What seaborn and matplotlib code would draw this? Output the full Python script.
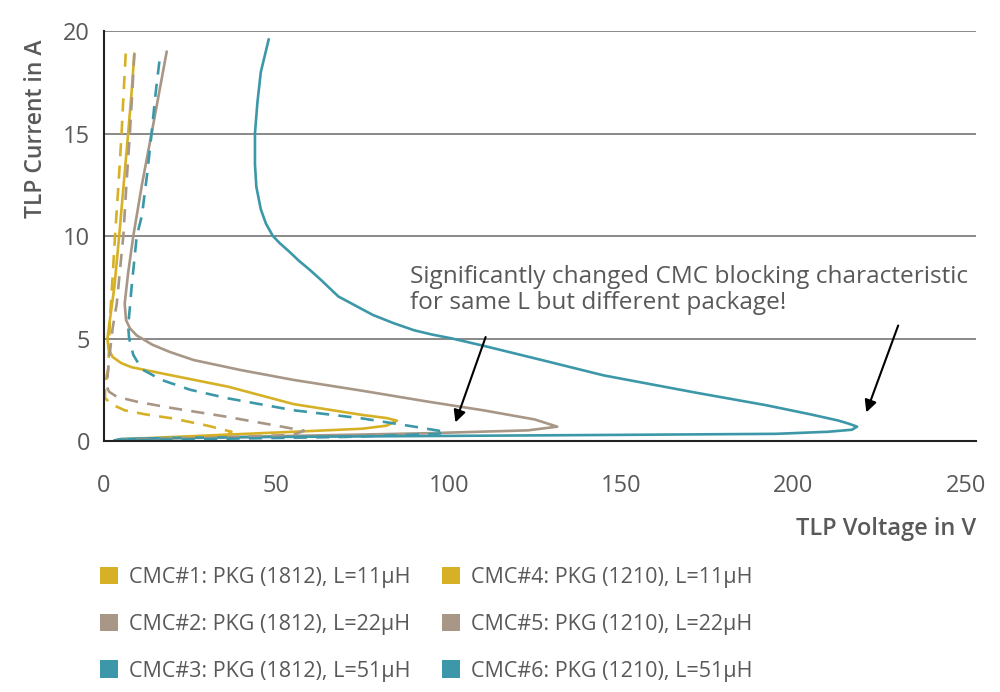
import matplotlib
matplotlib.use('Agg')
import matplotlib.pyplot as plt
from matplotlib.patches import Patch
import seaborn as sns
import pandas as pd

# TLP curves (voltage in V, current in A), traced from low current upward
v1 = [3, 7, 26, 55, 75, 82, 85, 82, 75, 55, 36, 16.7, 8, 5, 2.5, 1.3, 1.0, 1.7, 3, 4.4, 5.7, 7, 8, 8.8]
i1 = [0.03, 0.1, 0.24, 0.45, 0.6, 0.75, 0.99, 1.12, 1.27, 1.8, 2.65, 3.3, 3.6, 3.8, 4.1, 4.5, 5.0, 5.9, 7.5, 10, 12.5, 15, 17, 18.9]

v2 = [3, 10, 55, 94, 123, 131.5, 125, 110, 94, 75, 55, 40, 26, 19, 14, 9.5, 7.5, 6.4, 6, 7, 8.5, 11, 13.8, 16, 18.2]
i2 = [0.03, 0.1, 0.25, 0.38, 0.52, 0.7, 1.05, 1.5, 1.92, 2.45, 2.98, 3.45, 3.95, 4.35, 4.7, 5.15, 5.5, 5.9, 6.7, 8.2, 10, 12.5, 15, 17, 19.0]

v3 = [3, 5, 20, 50, 100, 150, 195, 210, 217, 218.5, 216, 213, 205, 192, 172, 145, 127, 110, 101, 95, 90, 84, 78,
      73, 68, 63, 59.7, 56.5, 54, 51, 49, 47, 45.5, 44.2, 43.8, 43.8, 44.5, 45.5, 47.8]
i3 = [0.03, 0.1, 0.15, 0.2, 0.25, 0.3, 0.35, 0.45, 0.55, 0.7, 0.85, 1.0, 1.3, 1.75, 2.35, 3.2, 3.95, 4.65, 5.0, 5.2, 5.4, 5.75, 6.15,
      6.6, 7.05, 7.85, 8.35, 8.8, 9.2, 9.65, 10.0, 10.6, 11.3, 12.4, 13.5, 15, 16.5, 18, 19.6]

v4 = [3, 20, 36, 37, 30, 20, 12, 6, 2, 0.3, 0.3, 0.8, 1.25, 1.7, 2.5, 3.2, 4.2, 5.1, 5.7, 6.3]
i4 = [0.03, 0.12, 0.3, 0.45, 0.75, 1.1, 1.3, 1.5, 1.8, 2.1, 2.6, 3.2, 3.5, 5.9, 8, 10, 12.5, 15, 17, 18.9]

v5 = [3, 30, 55, 58, 50, 35, 20, 10, 3.7, 1.5, 0.8, 1.2, 1.7, 2.5, 3.7, 5.6, 6.5, 7.5, 8.2, 8.8]
i5 = [0.03, 0.15, 0.3, 0.5, 0.75, 1.2, 1.6, 1.9, 2.16, 2.4, 2.65, 3.5, 4.3, 5.5, 6.7, 10, 12.5, 15, 17, 18.9]

v6 = [3, 30, 70, 97, 99, 90, 75, 55, 36, 25, 16.7, 11, 8.5, 7.3, 7, 7.5, 8, 9.5, 11, 12.5, 13.8, 15, 16.2]
i6 = [0.03, 0.1, 0.2, 0.35, 0.45, 0.7, 1.1, 1.5, 2.08, 2.5, 2.98, 3.5, 4.2, 5, 5.6, 6.5, 7.5, 10, 11, 13, 15, 17, 18.7]

labels = ['CMC#1: PKG (1812), L=11µH', 'CMC#2: PKG (1812), L=22µH', 'CMC#3: PKG (1812), L=51µH',
          'CMC#4: PKG (1210), L=11µH', 'CMC#5: PKG (1210), L=22µH', 'CMC#6: PKG (1210), L=51µH']

yellow, tan, teal = '#D6B126', '#A89786', '#3C98A8'
colors = [yellow, tan, teal, yellow, tan, teal]
text_gray = '#595959'

sns.set_style('white')
plt.rcParams['font.family'] = ['Open Sans', 'DejaVu Sans']

fig = plt.figure(figsize=(10, 6.92), dpi=100)
ax = fig.add_axes([0.104, 0.3627, 0.872, 0.5925])

curves = [(v1, i1), (v2, i2), (v3, i3), (v4, i4), (v5, i5), (v6, i6)]
for k, (v, i) in enumerate(curves):
    df = pd.DataFrame({'V': v, 'I': i})
    ls = '-' if k < 3 else (0, (5, 3.5))
    sns.lineplot(data=df, x='V', y='I', sort=False, estimator=None, color=colors[k],
                 linewidth=1.9, linestyle=ls, ax=ax)

ax.set_xlim(0, 253)
ax.set_ylim(0, 20)
ax.set_xticks([0, 50, 100, 150, 200, 250])
ax.set_yticks([0, 5, 10, 15, 20])
ax.grid(True, axis='y', color='#808080', linewidth=1.3)
ax.set_axisbelow(True)
for s in ['top', 'right']:
    ax.spines[s].set_visible(False)
for s in ['left', 'bottom']:
    ax.spines[s].set_color('#222222')
    ax.spines[s].set_linewidth(1.5)
ax.tick_params(axis='both', length=0, labelsize=17, colors=text_gray)
ax.tick_params(axis='x', pad=24)
ax.tick_params(axis='y', pad=10)

ax.set_xlabel('TLP Voltage in V', fontsize=17, fontweight='semibold', color=text_gray, loc='right')
ax.xaxis.set_label_coords(1.0, -0.185)
ax.set_ylabel('TLP Current in A', fontsize=16.5, fontweight='semibold', color=text_gray, loc='top')
ax.yaxis.set_label_coords(-0.064, 0.98)

ax.text(88.7, 8.6, 'Significantly changed CMC blocking characteristic\nfor same L but different package!',
        fontsize=17.6, color=text_gray, va='top', ha='left', linespacing=1.15)
ax.annotate('', xy=(101.7, 0.78), xytext=(111, 5.2),
            arrowprops=dict(arrowstyle='-|>', color='black', lw=1.5, mutation_scale=18))
ax.annotate('', xy=(220.9, 1.27), xytext=(230.7, 5.76),
            arrowprops=dict(arrowstyle='-|>', color='black', lw=1.5, mutation_scale=18))

handles = [Patch(facecolor=c, edgecolor='none') for c in colors]
fig.legend(handles=handles, labels=labels, ncol=2, loc='upper left', bbox_to_anchor=(0.1, 0.181),
           frameon=False, fontsize=15.5, labelcolor=text_gray, handlelength=0.85, handleheight=0.85,
           handletextpad=0.5, columnspacing=1.45, labelspacing=1.2, borderpad=0, borderaxespad=0)

fig.savefig('out.png', dpi=100)
